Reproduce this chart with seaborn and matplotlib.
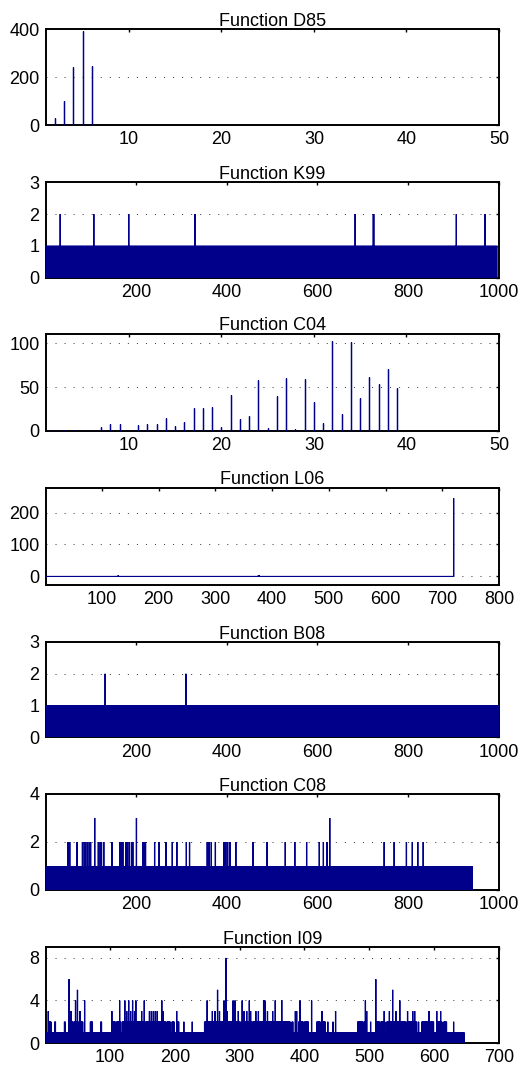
import numpy as np
import matplotlib
matplotlib.use("Agg")
import matplotlib.pyplot as plt
import seaborn as sns

# ---------------- data ----------------
titles = ["Function D85", "Function K99", "Function C04", "Function L06",
          "Function B08", "Function C08", "Function I09"]

# D85 : index 1..6
d85_values = [0, 30, 100, 241, 393, 247]

# C04 : index 1..39
c04_values = [0, 1.5, 1.5, 1.5, 0.5, 0.5, 5, 8, 8, 0, 6.5, 7.6, 7.6, 14.4, 5.3,
              9.9, 26, 26, 27, 5, 40.7, 13.7, 16.7, 58, 3.8, 39.5, 61, 2, 59,
              33, 9, 102.7, 19.4, 101, 38, 61.6, 53.6, 70.3, 49]

# K99 : 995 points at level 1, peaks at level 2
k99_length = 995
k99_base = 1
k99_peaks = {2: [33, 107, 184, 330, 683, 723, 724, 906, 969]}

# L06 : 720 points close to zero, one tall value at the end
l06_length = 720
l06_base = 1
l06_peaks = {4: [129, 376], 3: [377], 245: [720]}

# B08 : 1000 points at level 1, two peaks at 2
b08_length = 1000
b08_base = 1
b08_peaks = {2: [132, 310]}

# C08 : 941 points at level 1
c08_length = 941
c08_base = 1
c08_peaks = {
    2: [50, 54, 70, 82, 86, 89, 93, 97, 100, 117, 121, 124, 129, 147, 165, 168,
        171, 178, 181, 185, 190, 193, 215, 218, 221, 241, 251, 266, 280, 290,
        311, 318, 357, 361, 366, 375, 394, 398, 402, 407, 420, 458, 489,
        529, 550, 576, 604, 613, 621, 747, 769, 796, 809, 821, 833],
    3: [109, 201, 627],
}

# I09 : 646 points at level 1, runs at level 2, taller peaks
i09_length = 646
i09_base = 1
i09_runs_level2 = [(5, 9), (15, 16), (30, 31), (39, 43), (45, 50), (52, 58),
                   (70, 73), (86, 87), (104, 108), (110, 116), (119, 126),
                   (128, 138), (140, 152), (155, 160), (162, 172), (174, 186),
                   (188, 193), (196, 199), (203, 206), (214, 214), (227, 227),
                   (246, 262), (264, 280), (282, 300), (302, 318), (320, 336),
                   (338, 353), (356, 364), (366, 378), (381, 382), (391, 398),
                   (400, 406), (419, 424), (426, 432), (436, 436), (444, 444),
                   (482, 490), (492, 496), (502, 502), (512, 516), (518, 524),
                   (527, 540), (542, 556), (558, 573), (576, 576), (581, 592),
                   (594, 599), (604, 612), (615, 619), (630, 630)]
i09_peaks = {
    3: [5, 40, 54, 103, 126, 132, 138, 149, 161, 164, 167, 170, 173, 182, 203,
        258, 262, 269, 281, 298, 307, 311, 317, 325, 329, 343, 351, 386, 388,
        427, 448, 496, 523, 531, 541, 559, 567, 570, 592, 604, 610],
    4: [47, 61, 115, 123, 129, 135, 140, 153, 180, 250, 276, 290, 293, 304,
        315, 337, 339, 355, 365, 393, 411, 494, 547],
    5: [50, 266, 536],
    6: [37, 510],
    8: [279],
}

x_limits = [(1, 50), (1, 1000), (1, 50), (1, 800), (1, 1000), (1, 1000), (1, 700)]
y_limits = [(0, 400), (0, 3), (0, 111), (-27, 278), (0, 3), (0, 4), (0, 9)]
x_ticks = [[10, 20, 30, 40, 50], [200, 400, 600, 800, 1000], [10, 20, 30, 40, 50],
           [100, 200, 300, 400, 500, 600, 700, 800], [200, 400, 600, 800, 1000],
           [200, 400, 600, 800, 1000], [100, 200, 300, 400, 500, 600, 700]]
y_ticks = [[0, 200, 400], [0, 1, 2, 3], [0, 50, 100], [0, 100, 200],
           [0, 1, 2, 3], [0, 2, 4], [0, 4, 8]]


def build(length, base, peaks, runs=()):
    vals = np.full(length, float(base))
    for (a, b) in runs:
        vals[a - 1:b] = 2
    for lvl, idxs in peaks.items():
        for i in idxs:
            vals[i - 1] = lvl
    return vals


series = [
    np.array(d85_values, float),
    build(k99_length, k99_base, k99_peaks),
    np.array(c04_values, float),
    build(l06_length, l06_base, l06_peaks),
    build(b08_length, b08_base, b08_peaks),
    build(c08_length, c08_base, c08_peaks),
    build(i09_length, i09_base, i09_peaks, i09_runs_level2),
]

# ---------------- style ----------------
sns.set_theme(style="white")
plt.rcParams["font.family"] = ["Liberation Sans", "DejaVu Sans"]
plt.rcParams["lines.solid_joinstyle"] = "bevel"
plt.rcParams["lines.solid_capstyle"] = "butt"

W, H = 528, 1070
fig = plt.figure(figsize=(W / 100, H / 100), dpi=100)

tops = [29.3, 182.3, 333.7, 487.7, 642.0, 794.0, 947.3]
bottoms = [125.0, 277.7, 431.0, 585.0, 737.3, 890.0, 1043.0]
left_px, right_px = 45.7, 499.0

color = "#00008B"
fs = 13

for k in range(7):
    ax = fig.add_axes([left_px / W, 1 - bottoms[k] / H,
                       (right_px - left_px) / W, (bottoms[k] - tops[k]) / H])
    vals = series[k]
    idx = np.arange(1, len(vals) + 1)
    xs = np.repeat(idx, 3)
    ys = np.column_stack([np.zeros_like(vals), vals, np.zeros_like(vals)]).ravel()
    sns.lineplot(x=xs, y=ys, sort=False, estimator=None, ax=ax,
                 color=color, linewidth=0.9, zorder=3)
    ax.set_xlim(*x_limits[k])
    ax.set_ylim(*y_limits[k])
    ax.set_xticks(x_ticks[k])
    ax.set_yticks(y_ticks[k])
    ax.set_xlabel("")
    ax.set_ylabel("")
    ax.set_title(titles[k], fontsize=fs, pad=2.5, color="black")
    ax.yaxis.grid(True, linestyle=(0, (1, 8.3)), linewidth=0.7, color="#333333")
    ax.xaxis.grid(False)
    ax.set_axisbelow(True)
    ax.tick_params(direction="in", top=True, right=True, length=2.5, width=1,
                   labelsize=fs, colors="black", pad=4.5)
    for s in ax.spines.values():
        s.set_linewidth(1.4)
        s.set_color("black")

fig.savefig("out.png", dpi=100)
